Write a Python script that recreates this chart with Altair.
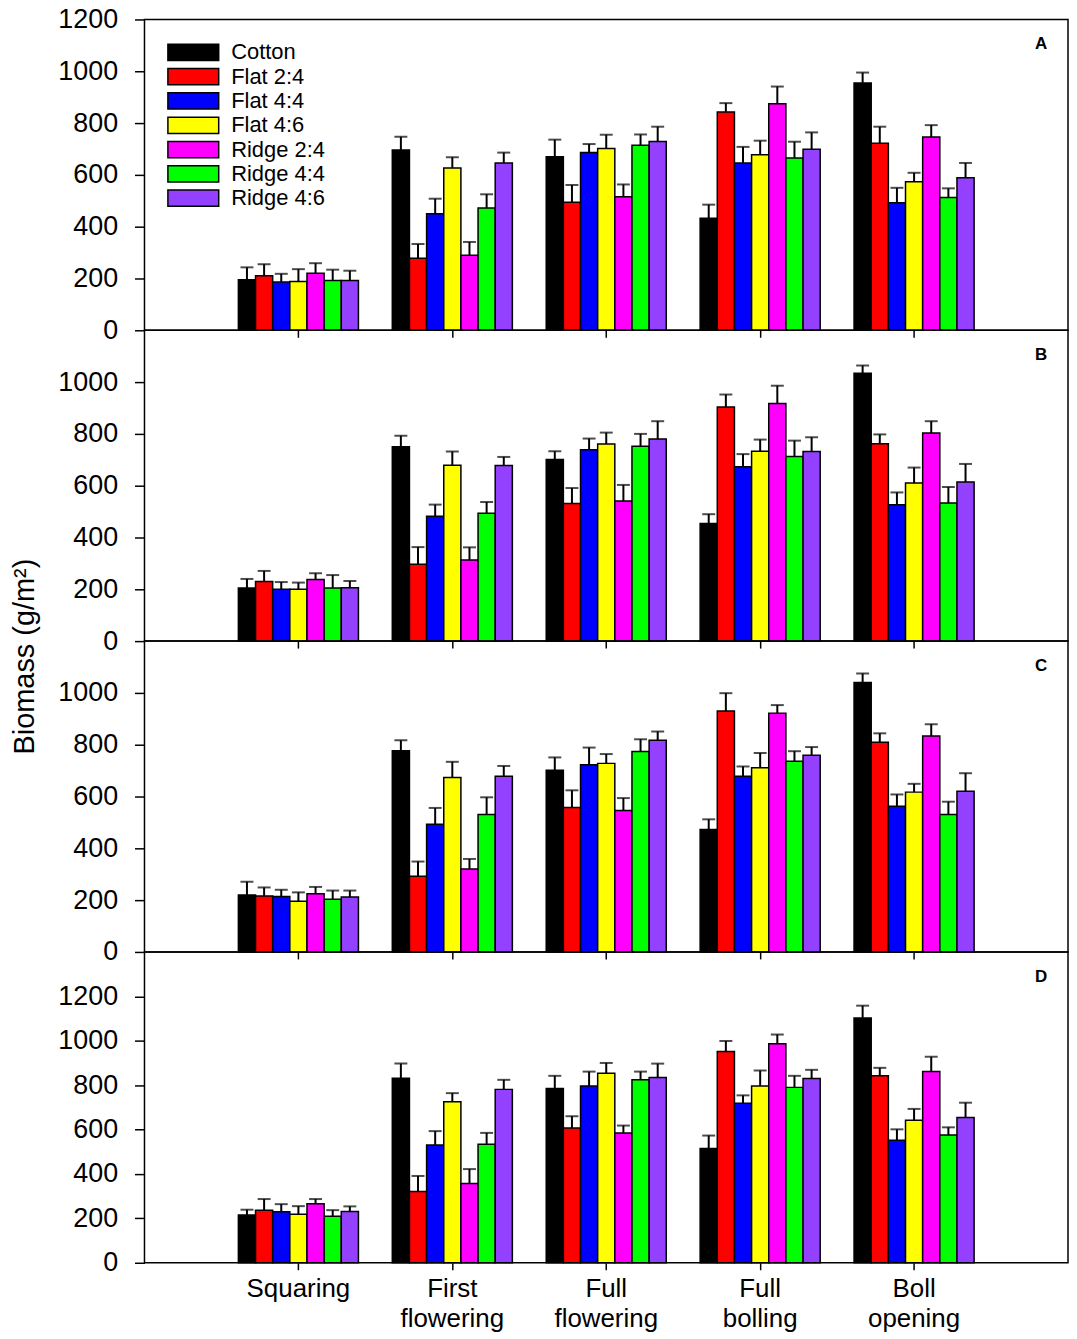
import altair as alt
import pandas as pd

FONT = "Liberation Sans"

stages = ["Squaring", "First flowering", "Full flowering", "Full bolling", "Boll opening"]
treatments = ["Cotton", "Flat 2:4", "Flat 4:4", "Flat 4:6", "Ridge 2:4", "Ridge 4:4", "Ridge 4:6"]
colors = ["#000000", "#FF0000", "#0000FF", "#FFFF00", "#FF00FF", "#00FF00", "#9440FF"]

# rows = treatments, columns = stages
a_mean = [
    [195, 696, 670, 433, 955],
    [211, 278, 494, 843, 722],
    [186, 450, 686, 646, 492],
    [188, 627, 702, 678, 573],
    [220, 290, 516, 875, 746],
    [192, 472, 714, 665, 513],
    [192, 646, 729, 699, 589],
]
a_se = [
    [48, 51, 66, 52, 40],
    [44, 55, 67, 34, 64],
    [32, 58, 33, 62, 58],
    [48, 41, 53, 54, 35],
    [39, 51, 47, 66, 46],
    [42, 53, 42, 63, 35],
    [38, 40, 57, 65, 57],
]
b_mean = [
    [205, 750, 701, 454, 1034],
    [230, 297, 531, 904, 762],
    [200, 482, 739, 673, 526],
    [200, 679, 761, 733, 610],
    [238, 313, 541, 917, 803],
    [205, 494, 752, 713, 533],
    [206, 678, 780, 732, 614],
]
b_se = [
    [35, 43, 32, 36, 30],
    [41, 66, 60, 48, 36],
    [28, 45, 43, 49, 48],
    [26, 53, 44, 45, 60],
    [24, 49, 62, 69, 46],
    [50, 43, 48, 61, 62],
    [26, 33, 69, 55, 70],
]
c_mean = [
    [220, 777, 701, 473, 1040],
    [216, 292, 558, 930, 810],
    [214, 493, 723, 678, 562],
    [196, 673, 728, 711, 617],
    [225, 320, 546, 922, 834],
    [203, 531, 774, 736, 531],
    [212, 678, 817, 759, 620],
]
c_se = [
    [51, 40, 50, 39, 35],
    [33, 57, 66, 69, 34],
    [26, 63, 66, 38, 46],
    [34, 61, 36, 57, 32],
    [26, 39, 48, 31, 45],
    [34, 66, 47, 39, 49],
    [25, 40, 34, 32, 70],
]
d_mean = [
    [215, 831, 785, 515, 1103],
    [237, 321, 607, 952, 842],
    [230, 531, 796, 719, 552],
    [218, 725, 854, 796, 642],
    [266, 357, 585, 987, 861],
    [210, 534, 824, 790, 575],
    [231, 781, 834, 830, 654],
]
d_se = [
    [24, 66, 57, 58, 55],
    [50, 70, 53, 47, 36],
    [34, 62, 65, 35, 49],
    [37, 39, 46, 70, 51],
    [21, 65, 33, 41, 67],
    [27, 51, 37, 52, 35],
    [23, 43, 63, 39, 67],
]

y_ticks_full = [0, 200, 400, 600, 800, 1000, 1200]
y_ticks_short = [0, 200, 400, 600, 800, 1000]


def long_table(means, ses):
    rows = []
    for t, mrow, srow in zip(treatments, means, ses):
        for s, m, e in zip(stages, mrow, srow):
            rows.append({"stage": s, "treatment": t, "mean": m, "se": e})
    return pd.DataFrame(rows)


def make_panel(means, ses, letter, ymax, yvals, bottom, show_legend, ytitle):
    df = long_table(means, ses)
    base = alt.Chart(df).transform_calculate(upper="datum.mean + datum.se")

    x_scale = alt.Scale(domain=stages, paddingInner=0.22, paddingOuter=0.61)
    x_axis = alt.Axis(
        title=None, labels=bottom, ticks=True, tickSize=7, tickWidth=1.5,
        tickColor="black", domain=False, grid=False,
        labelExpr="split(datum.label, ' ')", labelFontSize=26, labelFont=FONT,
        labelColor="black", labelAngle=0, labelPadding=6, labelLineHeight=30,
        labelBaseline="top",
    )
    x = alt.X("stage:N", sort=stages, scale=x_scale, axis=x_axis)
    xo = alt.XOffset("treatment:N", sort=treatments,
                     scale=alt.Scale(domain=treatments, paddingInner=0, paddingOuter=0))

    y_scale = alt.Scale(domain=[0, ymax], nice=False, zero=True)
    y_kwargs = dict(
        values=yvals, format="d", tickSize=10, tickWidth=1.5, tickColor="black",
        domain=False, grid=False, labelFontSize=27, labelFont=FONT,
        labelColor="black", labelPadding=17,
    )
    if ytitle:
        y_kwargs.update(title="Biomass (g/m²)", titleFontSize=29, titleFont=FONT,
                        titleFontWeight="normal", titleColor="black",
                        titlePadding=18, titleY=327)
    else:
        y_kwargs["title"] = None
    y_axis = alt.Axis(**y_kwargs)

    if show_legend:
        legend = alt.Legend(
            title=None, orient="none", legendX=38, legendY=22, padding=0,
            symbolType="M-2.5,-0.8H2.5V0.8H-2.5Z", symbolSize=416,
            symbolStrokeColor="black", symbolStrokeWidth=1.5, symbolOpacity=1,
            labelFontSize=22, labelFont=FONT, labelColor="black",
            labelOffset=27, rowPadding=0.4,
        )
        color = alt.Color("treatment:N", sort=treatments,
                          scale=alt.Scale(domain=treatments, range=colors),
                          legend=legend)
    else:
        color = alt.Color("treatment:N", sort=treatments,
                          scale=alt.Scale(domain=treatments, range=colors),
                          legend=None)

    bars = base.mark_bar(stroke="black", strokeWidth=1.5).encode(
        x=x, xOffset=xo,
        y=alt.Y("mean:Q", scale=y_scale, axis=y_axis),
        color=color,
    )
    rules = base.mark_rule(color="black", strokeWidth=2).encode(
        x=x, xOffset=xo,
        y=alt.Y("mean:Q", scale=y_scale, axis=y_axis),
        y2="upper:Q",
    )
    caps = base.mark_tick(color="black", thickness=2, size=13).encode(
        x=x, xOffset=xo,
        y=alt.Y("upper:Q", scale=y_scale, axis=y_axis),
    )
    letter_layer = alt.Chart(pd.DataFrame({"letter": [letter]})).mark_text(
        font=FONT, fontSize=17, fontWeight="bold", color="black",
        align="center", baseline="middle",
    ).encode(x=alt.value(900), y=alt.value(25), text="letter:N")

    return alt.layer(bars, rules, caps, letter_layer).properties(width=927, height=312)


pa = make_panel(a_mean, a_se, "A", 1200, y_ticks_full, False, True, False)
pb = make_panel(b_mean, b_se, "B", 1200, y_ticks_short, False, False, True)
pc = make_panel(c_mean, c_se, "C", 1200, y_ticks_short, False, False, False)
pd_ = make_panel(d_mean, d_se, "D", 1400, y_ticks_full, True, False, False)

chart = alt.vconcat(pa, pb, pc, pd_, spacing=0, bounds="flush").resolve_scale(
    y="independent", color="independent"
).resolve_legend(color="independent").properties(
    padding={"left": 2, "top": -6, "right": 0, "bottom": 0}
).configure_view(stroke="black", strokeWidth=1.5)

chart.save("out.html", embed_options={"renderer": "svg", "actions": False})
